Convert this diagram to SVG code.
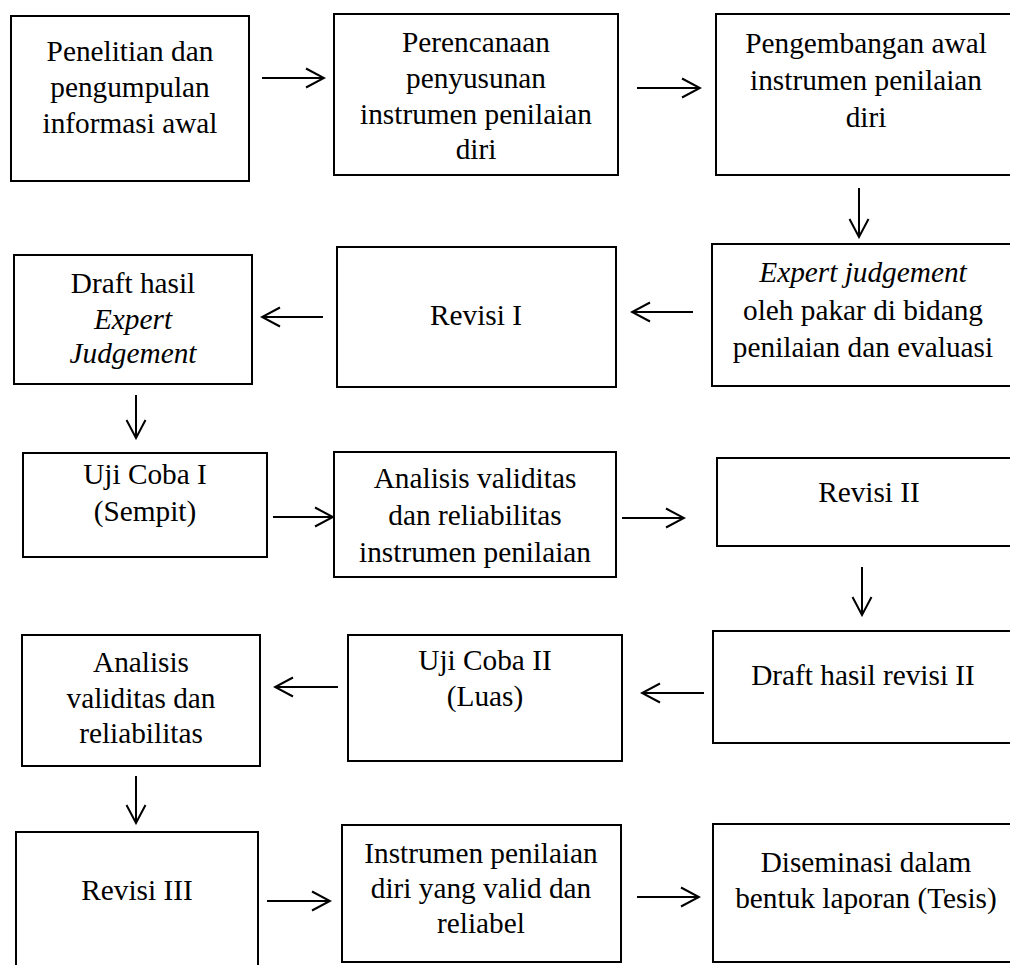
<svg xmlns="http://www.w3.org/2000/svg" width="1010" height="965" viewBox="0 0 1010 965">
<style>
.box{fill:#fff;stroke:#000;stroke-width:2}
.t{font-size:29.3px;fill:#000;text-anchor:middle}
.i{font-style:italic}
.c{stroke:#000;stroke-width:2;fill:none}
</style>
<defs>
<marker id="ah" markerUnits="userSpaceOnUse" markerWidth="22" markerHeight="22" viewBox="0 0 22 22" refX="20" refY="11" orient="auto">
<path d="M2,1.5 L20,11 L2,20.5" fill="none" stroke="#000" stroke-width="2"/>
</marker>
</defs>
<rect width="1010" height="965" fill="#fff"/>
<g id="connectors">
<line class="c" x1="262" y1="78" x2="324" y2="78" marker-end="url(#ah)"/>
<line class="c" x1="637" y1="88" x2="700" y2="88" marker-end="url(#ah)"/>
<line class="c" x1="859" y1="188" x2="859" y2="237" marker-end="url(#ah)"/>
<line class="c" x1="693" y1="312" x2="632" y2="312" marker-end="url(#ah)"/>
<line class="c" x1="323" y1="317" x2="262" y2="317" marker-end="url(#ah)"/>
<line class="c" x1="136" y1="395" x2="136" y2="438" marker-end="url(#ah)"/>
<line class="c" x1="273" y1="517" x2="333" y2="517" marker-end="url(#ah)"/>
<line class="c" x1="622" y1="518" x2="684" y2="518" marker-end="url(#ah)"/>
<line class="c" x1="862" y1="567" x2="862" y2="615" marker-end="url(#ah)"/>
<line class="c" x1="704" y1="693" x2="642" y2="693" marker-end="url(#ah)"/>
<line class="c" x1="338" y1="687" x2="275" y2="687" marker-end="url(#ah)"/>
<line class="c" x1="136" y1="776" x2="136" y2="823" marker-end="url(#ah)"/>
<line class="c" x1="267" y1="901" x2="330" y2="901" marker-end="url(#ah)"/>
<line class="c" x1="637" y1="897" x2="699" y2="897" marker-end="url(#ah)"/>
</g>
<g font-family="Liberation Serif, Times New Roman, serif">
<g id="n1"><rect class="box" x="11" y="16" width="238" height="165"/>
<text class="t" x="130" y="61">Penelitian dan</text><text class="t" x="130" y="97">pengumpulan</text><text class="t" x="130" y="133">informasi awal</text></g>
<g id="n2"><rect class="box" x="334" y="14" width="284" height="161"/>
<text class="t" x="476" y="52">Perencanaan</text><text class="t" x="476" y="88">penyusunan</text><text class="t" x="476" y="124">instrumen penilaian</text><text class="t" x="476" y="159">diri</text></g>
<g id="n3"><rect class="box" x="716" y="14" width="300" height="161"/>
<text class="t" x="866" y="53">Pengembangan awal</text><text class="t" x="866" y="90">instrumen penilaian</text><text class="t" x="866" y="127">diri</text></g>
<g id="n4"><rect class="box" x="712" y="244" width="305" height="142"/>
<text class="t i" x="863" y="282">Expert judgement</text><text class="t" x="863" y="320">oleh pakar di bidang</text><text class="t" x="863" y="357">penilaian dan evaluasi</text></g>
<g id="n5"><rect class="box" x="337" y="247" width="279" height="140"/>
<text class="t" x="476" y="325">Revisi I</text></g>
<g id="n6"><rect class="box" x="14" y="255" width="238" height="129"/>
<text class="t" x="133" y="293">Draft hasil</text><text class="t i" x="133" y="329">Expert</text><text class="t i" x="133" y="363">Judgement</text></g>
<g id="n7"><rect class="box" x="23" y="453" width="244" height="104"/>
<text class="t" x="145" y="484">Uji Coba I</text><text class="t" x="145" y="521">(Sempit)</text></g>
<g id="n8"><rect class="box" x="334" y="452" width="282" height="125"/>
<text class="t" x="475" y="488">Analisis validitas</text><text class="t" x="475" y="525">dan reliabilitas</text><text class="t" x="475" y="562">instrumen penilaian</text></g>
<g id="n9"><rect class="box" x="717" y="458" width="300" height="88"/>
<text class="t" x="869" y="502">Revisi II</text></g>
<g id="n10"><rect class="box" x="713" y="631" width="300" height="112"/>
<text class="t" x="863" y="685">Draft hasil revisi II</text></g>
<g id="n11"><rect class="box" x="348" y="635" width="274" height="126"/>
<text class="t" x="485" y="670">Uji Coba II</text><text class="t" x="485" y="706">(Luas)</text></g>
<g id="n12"><rect class="box" x="22" y="635" width="238" height="131"/>
<text class="t" x="141" y="672">Analisis</text><text class="t" x="141" y="708">validitas dan</text><text class="t" x="141" y="743">reliabilitas</text></g>
<g id="n13"><rect class="box" x="16" y="832" width="242" height="145"/>
<text class="t" x="137" y="900">Revisi III</text></g>
<g id="n14"><rect class="box" x="342" y="825" width="279" height="137"/>
<text class="t" x="481" y="863">Instrumen penilaian</text><text class="t" x="481" y="898">diri yang valid dan</text><text class="t" x="481" y="933">reliabel</text></g>
<g id="n15"><rect class="box" x="713" y="824" width="300" height="138"/>
<text class="t" x="866" y="872">Diseminasi dalam</text><text class="t" x="866" y="908">bentuk laporan (Tesis)</text></g>
</g>
</svg>
